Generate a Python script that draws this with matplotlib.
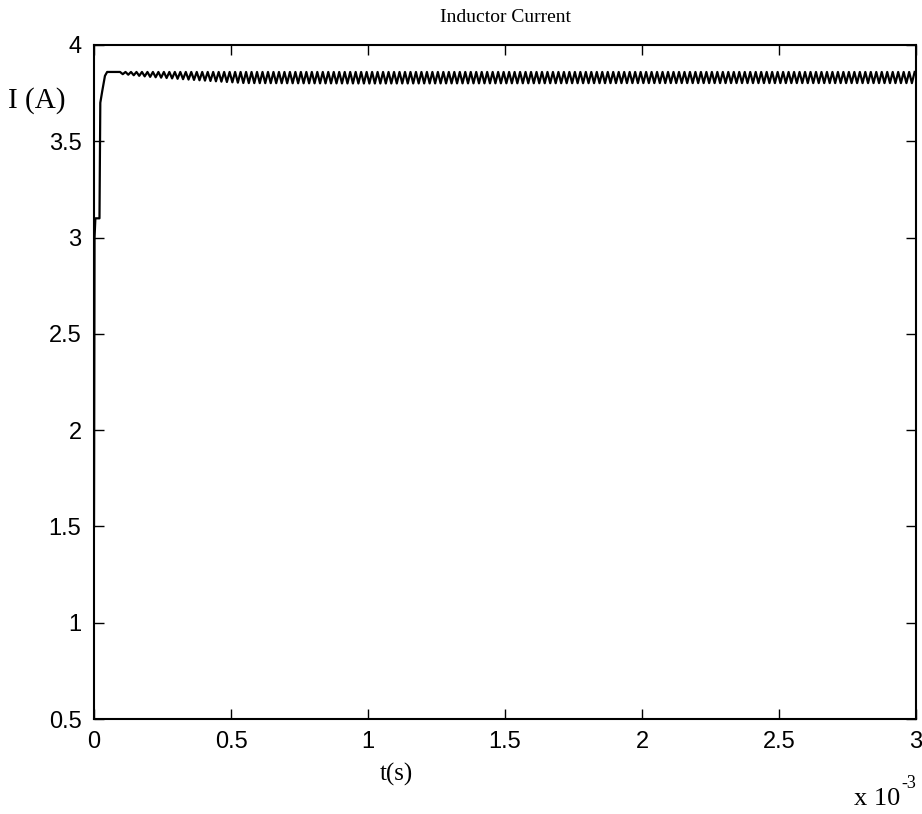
import numpy as np
import matplotlib
matplotlib.use("Agg")
import matplotlib.pyplot as plt

# Start-up transient of the inductor current (time in ms, current in A)
t_startup_ms = [0.0, 0.002, 0.005, 0.020, 0.023, 0.030, 0.040, 0.048, 0.095]
i_startup = [1.50, 3.00, 3.10, 3.10, 3.70, 3.76, 3.84, 3.86, 3.86]

# Switching ripple: peak level and peak-to-peak envelope over time
switching_freq_khz = 50.0
ripple_t_ms = [0.095, 0.2, 0.35, 0.55, 1.0, 2.0, 3.0]
ripple_pp = [0.01, 0.025, 0.04, 0.058, 0.06, 0.058, 0.058]
ripple_peak = [3.86, 3.86, 3.86, 3.86, 3.86, 3.86, 3.86]

x_ticks = [0, 0.5, 1, 1.5, 2, 2.5, 3]
y_ticks = [0.5, 1, 1.5, 2, 2.5, 3, 3.5, 4]

# Triangular ripple built from the switching period
period = 1.0 / switching_freq_khz  # ms
n_cycles = int(round((3.0 - ripple_t_ms[0]) / period))
t_r = [ripple_t_ms[0]]
for k in range(n_cycles):
    t_r.append(ripple_t_ms[0] + (k + 0.5) * period)
    t_r.append(ripple_t_ms[0] + (k + 1.0) * period)
t_r = np.array(t_r)
pk = np.interp(t_r, ripple_t_ms, ripple_peak)
pp = np.interp(t_r, ripple_t_ms, ripple_pp)
i_r = np.where(np.arange(len(t_r)) % 2 == 1, pk - pp, pk)

t = np.concatenate([t_startup_ms, t_r[1:]]) * 1e-3
i = np.concatenate([i_startup, i_r[1:]])

fig = plt.figure(figsize=(9.22, 8.14), dpi=100)
ax = fig.add_axes([94 / 922, 1 - 719 / 814, (916 - 94) / 922, (719 - 45) / 814])
ax.plot(t, i, color="black", lw=1.6)

ax.set_xlim(0, 3e-3)
ax.set_ylim(0.5, 4)
ax.set_xticks([v * 1e-3 for v in x_ticks])
ax.set_xticklabels([f"{v:g}" for v in x_ticks])
ax.set_yticks(y_ticks)
ax.set_yticklabels([f"{v:g}" for v in y_ticks])
ax.tick_params(direction="in", top=True, right=True, length=7, width=1,
               labelsize=17, pad=9)
for lab in ax.get_xticklabels() + ax.get_yticklabels():
    lab.set_fontfamily("Liberation Sans")
for s in ax.spines.values():
    s.set_linewidth(1.5)

serif = "Liberation Serif"
fig.text(505 / 922, 1 - 18 / 814, "Inductor Current", ha="center", va="center",
         fontsize=14, family=serif)
fig.text(37 / 922, 1 - 101 / 814, "I (A)", ha="center", va="center",
         fontsize=21, family=serif)
fig.text(396 / 922, 1 - 774 / 814, "t(s)", ha="center", va="center",
         fontsize=18, family=serif)
fig.text(900 / 922, 1 - 799 / 814, "x 10", ha="right", va="center",
         fontsize=19, family=serif)
fig.text(901 / 922, 1 - 784 / 814, "-3", ha="left", va="center",
         fontsize=13, family=serif)

fig.savefig("out.png", dpi=100)
